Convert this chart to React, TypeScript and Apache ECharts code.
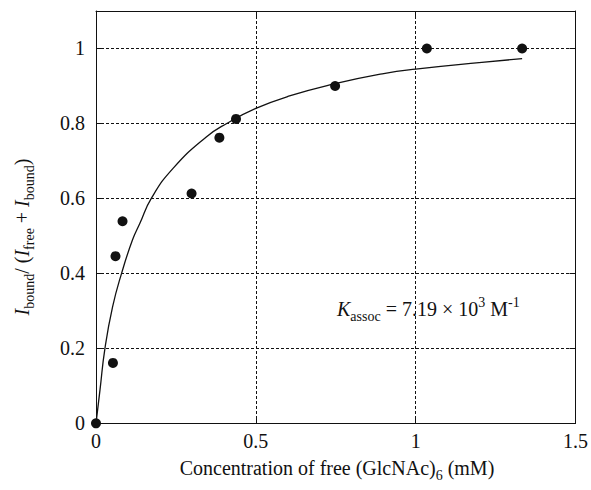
import React, { useEffect, useRef } from "react";
import * as echarts from "echarts";

// Measured data points
const pointX = [0, 0.053, 0.061, 0.083, 0.299, 0.386, 0.438, 0.748, 1.035, 1.333];
const pointY = [0, 0.161, 0.446, 0.539, 0.613, 0.762, 0.812, 0.9, 1.0, 1.0];

// Fitted curve
const curveX = [0, 0.0125, 0.028, 0.052, 0.08, 0.114, 0.137, 0.173, 0.241, 0.345, 0.409, 0.5, 0.6, 0.748, 0.9, 1.0, 1.207, 1.333];
const curveY = [0, 0.089, 0.2, 0.311, 0.4, 0.489, 0.533, 0.6, 0.68, 0.764, 0.8, 0.84, 0.872, 0.906, 0.933, 0.945, 0.963, 0.973];

const xTicks = [0, 0.5, 1, 1.5];
const yTicks = [0, 0.2, 0.4, 0.6, 0.8, 1];

const FONT = "Liberation Serif";
const INK = "#111";

const rich = {
  n: { fontSize: 20, fontFamily: FONT, lineHeight: 28, verticalAlign: "middle", fill: INK, color: INK },
  i: { fontSize: 20, fontFamily: FONT, fontStyle: "italic", lineHeight: 28, verticalAlign: "middle", fill: INK, color: INK },
  s: { fontSize: 14, fontFamily: FONT, lineHeight: 14, verticalAlign: "bottom", fill: INK, color: INK },
  p: { fontSize: 14, fontFamily: FONT, lineHeight: 14, verticalAlign: "top", fill: INK, color: INK },
};

export default function App() {
  const ref = useRef<HTMLDivElement>(null);
  useEffect(() => {
    if (!ref.current) return;
    const chart = echarts.init(ref.current, undefined, { renderer: "svg" });
    const axisCommon = {
      type: "value" as const,
      axisLine: { show: true, onZero: false, lineStyle: { color: INK, width: 1 } },
      axisTick: { show: true, inside: true, length: 6, lineStyle: { color: INK, width: 1 } },
    };
    const fmt = (v: number) => (yTicks.some((t) => Math.abs(t - v) < 1e-6) ? String(Math.round(v * 10) / 10) : "");
    const xfmt = (v: number) => (xTicks.some((t) => Math.abs(t - v) < 1e-6) ? String(v) : "");
    chart.setOption({
      animation: false,
      backgroundColor: "#fff",
      textStyle: { fontFamily: FONT, color: INK },
      grid: { left: 96, right: 13.5, top: 11, bottom: 66.7, containLabel: false },
      xAxis: [
        {
          ...axisCommon,
          position: "bottom",
          min: 0,
          max: 1.5,
          interval: 0.5,
          axisLabel: { color: INK, fontSize: 20, fontFamily: FONT, margin: 8, formatter: xfmt },
          splitLine: { show: true, lineStyle: { color: INK, width: 1, type: [3, 2] } },
        },
        {
          ...axisCommon,
          position: "top",
          min: 0,
          max: 1.5,
          interval: 0.5,
          axisLabel: { show: false },
          splitLine: { show: false },
        },
      ],
      yAxis: [
        {
          ...axisCommon,
          position: "left",
          min: 0,
          max: 1.1,
          interval: 0.2,
          axisLabel: { color: INK, fontSize: 20, fontFamily: FONT, margin: 11, formatter: fmt },
          splitLine: { show: true, lineStyle: { color: INK, width: 1, type: [3, 2] } },
        },
        {
          ...axisCommon,
          position: "right",
          min: 0,
          max: 1.1,
          interval: 0.2,
          axisLabel: { show: false },
          splitLine: { show: false },
        },
      ],
      series: [
        {
          type: "line",
          data: curveX.map((x, k) => [x, curveY[k]]),
          smooth: 0.5,
          symbol: "none",
          lineStyle: { color: INK, width: 1.3 },
          z: 3,
        },
        {
          type: "scatter",
          data: pointX.map((x, k) => [x, pointY[k]]),
          symbol: "circle",
          symbolSize: 10,
          itemStyle: { color: INK, opacity: 1 },
          z: 4,
        },
      ],
      graphic: [
        {
          type: "text",
          x: 22,
          y: 237,
          rotation: Math.PI / 2,
          style: {
            text: "{i|I}{s|bound}{n|/ (}{i|I}{s|free}{n| + }{i|I}{s|bound}{n|)}",
            rich,
            align: "center",
            verticalAlign: "middle",
            fill: INK,
          },
        },
        {
          type: "text",
          x: 337,
          y: 468,
          style: {
            text: "{n|Concentration of free (GlcNAc)}{s|6}{n| (mM)}",
            rich,
            align: "center",
            verticalAlign: "middle",
            fill: INK,
          },
        },
        {
          type: "text",
          x: 337,
          y: 309,
          style: {
            text: "{i|K}{s|assoc}{n| = 7.19 × 10}{p|3}{n| M}{p|-1}",
            rich,
            align: "left",
            verticalAlign: "middle",
            fill: INK,
          },
        },
      ],
    });
    return () => chart.dispose();
  }, []);
  return (
    <div
      ref={ref}
      style={{ position: "fixed", left: 0, top: 0, width: 591, height: 490, background: "#fff" }}
    />
  );
}
